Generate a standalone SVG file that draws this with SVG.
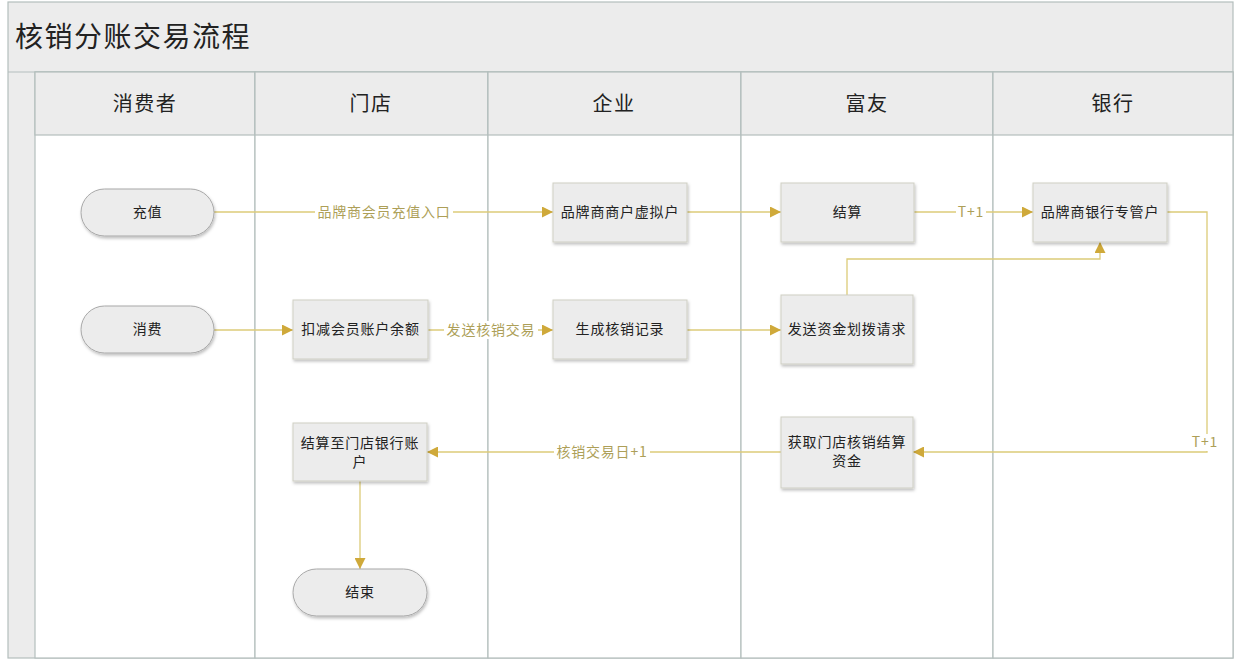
<svg xmlns="http://www.w3.org/2000/svg" width="1240" height="666" viewBox="0 0 1240 666">
<style>
.frame{fill:#ececec;stroke:#b4bebd;stroke-width:1.2}
.lane{fill:#ffffff;stroke:#b4bebd;stroke-width:1.2}
.hdr{fill:#ececec;stroke:#b4bebd;stroke-width:1.2}
.title{font-family:"Noto Sans CJK SC","Noto Sans",sans-serif;font-size:28px;letter-spacing:1.5px;fill:#222}
.lt{font-family:"Noto Sans CJK SC","Noto Sans",sans-serif;font-size:20px;letter-spacing:1.5px;fill:#222;text-anchor:middle}
.box{fill:#ececec;stroke:#cfcfc4;stroke-width:1;filter:url(#sh)}
.term{fill:#ececec;stroke:#a8a8a8;stroke-width:1;filter:url(#sh)}
.nt{font-family:"Noto Sans CJK SC","Noto Sans",sans-serif;font-size:14px;letter-spacing:0.8px;fill:#222;text-anchor:middle}
.cn{fill:none;stroke:#dccb78;stroke-width:1.3}
.lbl{font-family:"Noto Sans CJK SC","Noto Sans",sans-serif;font-size:14px;letter-spacing:0.8px;fill:#ad9f58;text-anchor:middle}
.lblbg{fill:#ffffff}
</style>
<defs>
<filter id="sh" x="-10%" y="-10%" width="130%" height="140%">
<feDropShadow dx="1" dy="2" stdDeviation="1.5" flood-color="#000" flood-opacity="0.25"/>
</filter>
<marker id="ah" viewBox="0 0 10 10" refX="10" refY="5" markerWidth="11" markerHeight="11" markerUnits="userSpaceOnUse" orient="auto">
<path d="M0,0 L10,5 L0,10 z" fill="#cfa93a"/>
</marker>
</defs>
<rect width="1240" height="666" fill="#ffffff"/>
<g id="pool">
<rect class="frame" x="8" y="2" width="1225" height="656"/>
<text class="title" x="15" y="47">核销分账交易流程</text>
<line x1="8" y1="72" x2="1233" y2="72" stroke="#b4bebd" stroke-width="1.2"/>
</g>
<g id="lane-consumer">
<rect class="lane" x="35" y="72" width="220" height="586"/>
<rect class="hdr" x="35" y="72" width="220" height="63"/>
<text class="lt" x="145" y="111">消费者</text>
</g>
<g id="lane-store">
<rect class="lane" x="255" y="72" width="233" height="586"/>
<rect class="hdr" x="255" y="72" width="233" height="63"/>
<text class="lt" x="371" y="111">门店</text>
</g>
<g id="lane-enterprise">
<rect class="lane" x="488" y="72" width="253" height="586"/>
<rect class="hdr" x="488" y="72" width="253" height="63"/>
<text class="lt" x="614" y="111">企业</text>
</g>
<g id="lane-fuyou">
<rect class="lane" x="741" y="72" width="252" height="586"/>
<rect class="hdr" x="741" y="72" width="252" height="63"/>
<text class="lt" x="867" y="111">富友</text>
</g>
<g id="lane-bank">
<rect class="lane" x="993" y="72" width="240" height="586"/>
<rect class="hdr" x="993" y="72" width="240" height="63"/>
<text class="lt" x="1113" y="111">银行</text>
</g>
<g id="connectors">
<path class="cn" d="M214,212 H553" marker-end="url(#ah)"/>
<rect class="lblbg" x="315" y="203" width="138" height="18"/>
<text class="lbl" x="384" y="217">品牌商会员充值入口</text>
<path class="cn" d="M687,212 H781" marker-end="url(#ah)"/>
<path class="cn" d="M914,212 H1033" marker-end="url(#ah)"/>
<rect class="lblbg" x="956" y="203" width="30" height="18"/>
<text class="lbl" x="971" y="217">T+1</text>
<path class="cn" d="M847,295 V259 H1100 V242" marker-end="url(#ah)"/>
<path class="cn" d="M214,330 H293" marker-end="url(#ah)"/>
<path class="cn" d="M428,330 H553" marker-end="url(#ah)"/>
<rect class="lblbg" x="444" y="321" width="94" height="18"/>
<text class="lbl" x="491" y="335">发送核销交易</text>
<path class="cn" d="M687,330 H781" marker-end="url(#ah)"/>
<path class="cn" d="M1167,212 H1207 V452 H913" marker-end="url(#ah)"/>
<rect class="lblbg" x="1190" y="434" width="30" height="17"/>
<text class="lbl" x="1205" y="447">T+1</text>
<path class="cn" d="M781,452 H427" marker-end="url(#ah)"/>
<rect class="lblbg" x="554" y="443" width="96" height="18"/>
<text class="lbl" x="602" y="457">核销交易日+1</text>
<path class="cn" d="M360,481 V569" marker-end="url(#ah)"/>
</g>
<g id="n-recharge">
<rect class="term" x="81" y="189" width="133" height="47" rx="23.5"/>
<text class="nt" x="147.5" y="217">充值</text>
</g>
<g id="n-consume">
<rect class="term" x="81" y="306" width="133" height="47" rx="23.5"/>
<text class="nt" x="147.5" y="334">消费</text>
</g>
<g id="n-deduct">
<rect class="box" x="293" y="300" width="135" height="59"/>
<text class="nt" x="360.5" y="334">扣减会员账户余额</text>
</g>
<g id="n-virtual">
<rect class="box" x="553" y="183" width="134" height="59"/>
<text class="nt" x="620" y="217">品牌商商户虚拟户</text>
</g>
<g id="n-settle">
<rect class="box" x="781" y="183" width="133" height="59"/>
<text class="nt" x="847.5" y="217">结算</text>
</g>
<g id="n-bankacct">
<rect class="box" x="1033" y="183" width="134" height="59"/>
<text class="nt" x="1100" y="217">品牌商银行专管户</text>
</g>
<g id="n-record">
<rect class="box" x="553" y="300" width="134" height="59"/>
<text class="nt" x="620" y="334">生成核销记录</text>
</g>
<g id="n-request">
<rect class="box" x="781" y="295" width="132" height="69"/>
<text class="nt" x="847" y="334">发送资金划拨请求</text>
</g>
<g id="n-getfund">
<rect class="box" x="781" y="417" width="132" height="71"/>
<text class="nt" x="847" y="447">获取门店核销结算</text>
<text class="nt" x="847" y="466">资金</text>
</g>
<g id="n-storebank">
<rect class="box" x="293" y="423" width="134" height="58"/>
<text class="nt" x="360" y="448">结算至门店银行账</text>
<text class="nt" x="360" y="467">户</text>
</g>
<g id="n-end">
<rect class="term" x="293" y="569" width="134" height="47" rx="23.5"/>
<text class="nt" x="360" y="597">结束</text>
</g>
</svg>
